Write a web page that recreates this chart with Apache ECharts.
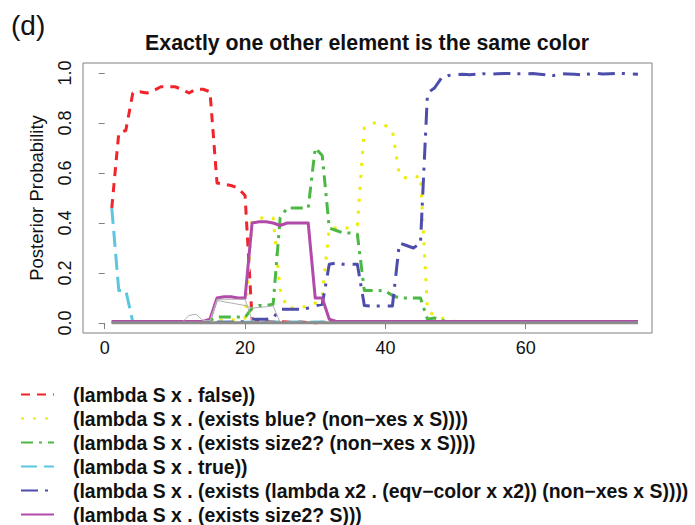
<!DOCTYPE html>
<html><head><meta charset="utf-8">
<script src="https://cdn.jsdelivr.net/npm/echarts@6/dist/echarts.min.js"></script>
<style>html,body{margin:0;padding:0;background:#fff}#c{width:695px;height:525px}</style>
</head><body><div id="c"></div>
<script>
const xs = [1,2,3,4,5,6,7,8,9,10,11,12,13,14,15,16,17,18,19,20,21,22,23,24,25,26,27,28,29,30,31,32,33,34,35,36,37,38,39,40,41,42,43,44,45,46,47,48,49,50,51,52,53,54,55,56,57,58,59,60,61,62,63,64,65,66,67,68,69,70,71,72,73,74,75,76];

const names = [
  "(lambda S x . false))",
  "(lambda S x . (exists blue? (non\u2212xes x S))))",
  "(lambda S x . (exists size2? (non\u2212xes x S))))",
  "(lambda S x . true))",
  "(lambda S x . (exists (lambda x2 . (eqv\u2212color x x2)) (non\u2212xes x S))))",
  "(lambda S x . (exists size2? S)))"
];

const yFalse = [0.46,0.76,0.77,0.92,0.925,0.92,0.93,0.945,0.945,0.945,
  0.935,0.92,0.935,0.935,0.925,0.56,0.555,0.55,0.54,0.51,
  0.015,0.01,0.006,0.004,0.005,0.004,0.003,0.004,0.002,0.001,
  0.003,0.004,0.005,0.004,0.003,0.004,0.004,0.003,0.004,0.005,
  0.004,0.003,0.004,0.004,0.003,0.004,0.003,0.002,0.003,0.004,
  0.003,0.003,0.004,0.003,0.003,0.004,0.003,0.003,0.004,0.003,
  0.003,0.004,0.003,0.002,0.003,0.003,0.004,0.003,0.003,0.004,
  0.003,0.003,0.004,0.003,0.003,0.003];

const yBlue = [0.004,0.004,0.004,0.005,0.004,0.004,0.005,0.004,0.004,0.004,
  0.004,0.005,0.004,0.004,0.006,0.01,0.01,0.012,0.015,0.02,
  0.41,0.42,0.42,0.42,0.135,0.06,0.06,0.065,0.065,0.08,
  0.11,0.38,0.38,0.38,0.38,0.39,0.78,0.80,0.80,0.79,
  0.77,0.59,0.58,0.58,0.59,0.05,0.03,0.02,0.01,0.006,
  0.005,0.004,0.004,0.004,0.004,0.003,0.004,0.004,0.004,0.004,
  0.004,0.004,0.003,0.004,0.004,0.004,0.004,0.004,0.003,0.004,
  0.004,0.004,0.004,0.004,0.004,0.004];

const ySize2NonXes = [0.004,0.005,0.004,0.004,0.005,0.004,0.004,0.005,0.004,0.004,
  0.004,0.005,0.005,0.006,0.01,0.024,0.024,0.024,0.024,0.022,
  0.06,0.07,0.07,0.075,0.42,0.46,0.46,0.46,0.46,0.70,
  0.67,0.38,0.37,0.36,0.36,0.355,0.13,0.13,0.13,0.128,
  0.11,0.10,0.10,0.10,0.10,0.015,0.02,0.01,0.006,0.004,
  0.004,0.005,0.004,0.004,0.005,0.004,0.004,0.004,0.005,0.004,
  0.004,0.004,0.005,0.004,0.004,0.004,0.005,0.004,0.004,0.004,
  0.005,0.004,0.004,0.004,0.005,0.004];

const yTrue = [0.46,0.13,0.13,0.004,0.003,0.004,0.004,0.003,0.004,0.004,
  0.003,0.004,0.004,0.003,0.004,0.004,0.003,0.004,0.004,0.003,
  0.004,0.004,0.003,0.004,0.004,0.003,0.004,0.004,0.003,0.004,
  0.004,0.003,0.004,0.004,0.003,0.004,0.004,0.003,0.004,0.004,
  0.003,0.004,0.004,0.003,0.004,0.004,0.003,0.004,0.004,0.003,
  0.004,0.004,0.003,0.004,0.004,0.003,0.004,0.004,0.003,0.004,
  0.004,0.003,0.004,0.004,0.003,0.004,0.004,0.003,0.004,0.004,
  0.003,0.004,0.004,0.003,0.004,0.004];

const yEqvColor = [0.003,0.003,0.003,0.003,0.003,0.003,0.003,0.003,0.003,0.003,
  0.003,0.003,0.003,0.003,0.003,0.003,0.003,0.003,0.003,0.005,
  0.015,0.015,0.015,0.02,0.055,0.055,0.055,0.055,0.06,0.068,
  0.075,0.235,0.24,0.235,0.235,0.235,0.07,0.068,0.068,0.068,
  0.068,0.32,0.31,0.30,0.32,0.92,0.94,0.98,0.99,0.993,
  0.995,0.993,0.995,0.997,0.995,0.997,0.998,0.998,0.997,0.997,
  0.998,0.995,0.992,0.99,0.997,0.996,0.995,0.992,0.996,0.999,
  0.996,0.997,0.998,0.998,0.996,0.995];

const ySize2 = [0.006,0.006,0.006,0.006,0.006,0.006,0.006,0.006,0.006,0.006,
  0.006,0.006,0.006,0.006,0.015,0.10,0.105,0.105,0.10,0.10,
  0.40,0.405,0.405,0.40,0.39,0.40,0.40,0.40,0.40,0.10,
  0.10,0.015,0.006,0.006,0.006,0.006,0.006,0.006,0.006,0.006,
  0.006,0.006,0.006,0.006,0.006,0.006,0.006,0.006,0.006,0.006,
  0.006,0.006,0.006,0.006,0.006,0.006,0.006,0.006,0.006,0.006,
  0.006,0.006,0.006,0.006,0.006,0.006,0.006,0.006,0.006,0.006,
  0.006,0.006,0.006,0.006,0.006,0.006];

const yOtherA = [0.002,0.002,0.002,0.002,0.002,0.002,0.002,0.002,0.002,0.002,
  0.002,0.03,0.035,0.01,0.01,0.095,0.095,0.095,0.095,0.095,
  0.01,0.002,0.002,0.002,0.002,0.002,0.002,0.002,0.002,0.002,
  0.002,0.002,0.002,0.002,0.002,0.002,0.002,0.002,0.002,0.002,
  0.002,0.002,0.002,0.002,0.002,0.002,0.002,0.002,0.002,0.002,
  0.002,0.002,0.002,0.002,0.002,0.002,0.002,0.002,0.002,0.002,
  0.002,0.002,0.002,0.002,0.002,0.002,0.002,0.002,0.002,0.002,
  0.002,0.002,0.002,0.002,0.002,0.002];

const yOtherB = [0.002,0.002,0.002,0.002,0.002,0.002,0.002,0.002,0.002,0.002,
  0.002,0.002,0.002,0.002,0.002,0.09,0.085,0.08,0.075,0.07,
  0.06,0.062,0.065,0.068,0.003,0.002,0.002,0.002,0.002,0.002,
  0.002,0.002,0.002,0.002,0.002,0.002,0.002,0.002,0.002,0.002,
  0.002,0.002,0.002,0.002,0.002,0.002,0.002,0.002,0.002,0.002,
  0.002,0.002,0.002,0.002,0.002,0.002,0.002,0.002,0.002,0.002,
  0.002,0.002,0.002,0.002,0.002,0.002,0.002,0.002,0.002,0.002,
  0.002,0.002,0.002,0.002,0.002,0.002];

const yOtherZero = [0.001,0.001,0.001,0.001,0.001,0.001,0.001,0.001,0.001,0.001,
  0.001,0.001,0.001,0.001,0.001,0.001,0.001,0.001,0.001,0.001,
  0.001,0.001,0.001,0.001,0.001,0.001,0.001,0.001,0.001,0.001,
  0.001,0.001,0.001,0.001,0.001,0.001,0.001,0.001,0.001,0.001,
  0.001,0.001,0.001,0.001,0.001,0.001,0.001,0.001,0.001,0.001,
  0.001,0.001,0.001,0.001,0.001,0.001,0.001,0.001,0.001,0.001,
  0.001,0.001,0.001,0.001,0.001,0.001,0.001,0.001,0.001,0.001,
  0.001,0.001,0.001,0.001,0.001,0.001];

const xTicks = [0, 20, 40, 60];
const yTicks = [0, 0.2, 0.4, 0.6, 0.8, 1.0];
const titleText = "Exactly one other element is the same color";
const panelLabel = "(d)";
const yName = "Posterior Probability";

const colors = ['#f0242a', '#eded00', '#4cb844', '#5cc6de', '#4d4dab', '#b24aa9'];
const dashes = [[9,7], [3,9], [12,6,3,6], [16,7], [17,7,3,8], 'solid'];
const values = [yFalse, yBlue, ySize2NonXes, yTrue, yEqvColor, ySize2];

const pairs = arr => xs.map((x, i) => [x, arr[i]]);
const FONT = 'Liberation Sans, Arial, Helvetica, sans-serif';

const series = names.map((n, k) => ({
  name: n, type: 'line', symbol: 'none', showSymbol: false,
  data: pairs(values[k]), z: 2 + k,
  lineStyle: {color: colors[k], width: 3, type: dashes[k], cap: 'butt', join: 'round'},
  itemStyle: {color: colors[k]}
}));
[[yOtherA, 1, '#b0b0b0'], [yOtherB, 1, '#b0b0b0'], [yOtherZero, 3, '#8c8c8c']].forEach((g, j) => {
  series.push({name: 'other' + j, type: 'line', symbol: 'none', data: pairs(g[0]), z: 10,
    lineStyle: {color: g[2], width: g[1]}, itemStyle: {color: g[2]}});
});

const chart = echarts.init(document.getElementById('c'), null, {renderer: 'svg'});
chart.setOption({
  animation: false,
  backgroundColor: '#fff',
  grid: {left: 83, right: 43, top: 63, bottom: 192, show: true, borderColor: '#808080', borderWidth: 1},
  xAxis: {type: 'value', min: -3.1, max: 78,
    axisLine: {show: false}, splitLine: {show: false},
    axisTick: {show: true, length: 6, customValues: xTicks, lineStyle: {color: '#808080'}},
    axisLabel: {customValues: xTicks, margin: 6, fontSize: 18, color: '#111', fontFamily: FONT}},
  yAxis: {type: 'value', min: -0.04, max: 1.04,
    name: yName, nameLocation: 'middle', nameGap: 37,
    nameTextStyle: {fontSize: 18.5, color: '#111', fontFamily: FONT},
    axisLine: {show: false}, splitLine: {show: false},
    axisTick: {show: true, length: 6, customValues: yTicks, lineStyle: {color: '#808080'}},
    axisLabel: {customValues: yTicks, rotate: 90, margin: 9, fontSize: 18, color: '#111', fontFamily: FONT,
      formatter: v => Number(v).toFixed(1)}},
  legend: {orient: 'vertical', left: 20, top: 385, padding: 0, height: 200, itemWidth: 33, itemHeight: 18, itemGap: 5.0,
    selectedMode: false, data: names,
    itemStyle: {opacity: 0, color: 'transparent', borderWidth: 0},
    lineStyle: {width: 2},
    textStyle: {fontFamily: FONT, fontWeight: 'bold', fontSize: 19.4, color: '#111', padding: [0, 0, 0, 14], lineHeight: 18}},
  graphic: [
    {type: 'text', x: 367, y: 43, style: {text: titleText, font: 'bold 21.3px ' + FONT, fill: '#111', textAlign: 'center', textVerticalAlign: 'middle'}},
    {type: 'text', x: 11, y: 25, style: {text: panelLabel, font: '28px ' + FONT, fill: '#111', textAlign: 'left', textVerticalAlign: 'middle'}}
  ],
  series: series
});
</script></body></html>
